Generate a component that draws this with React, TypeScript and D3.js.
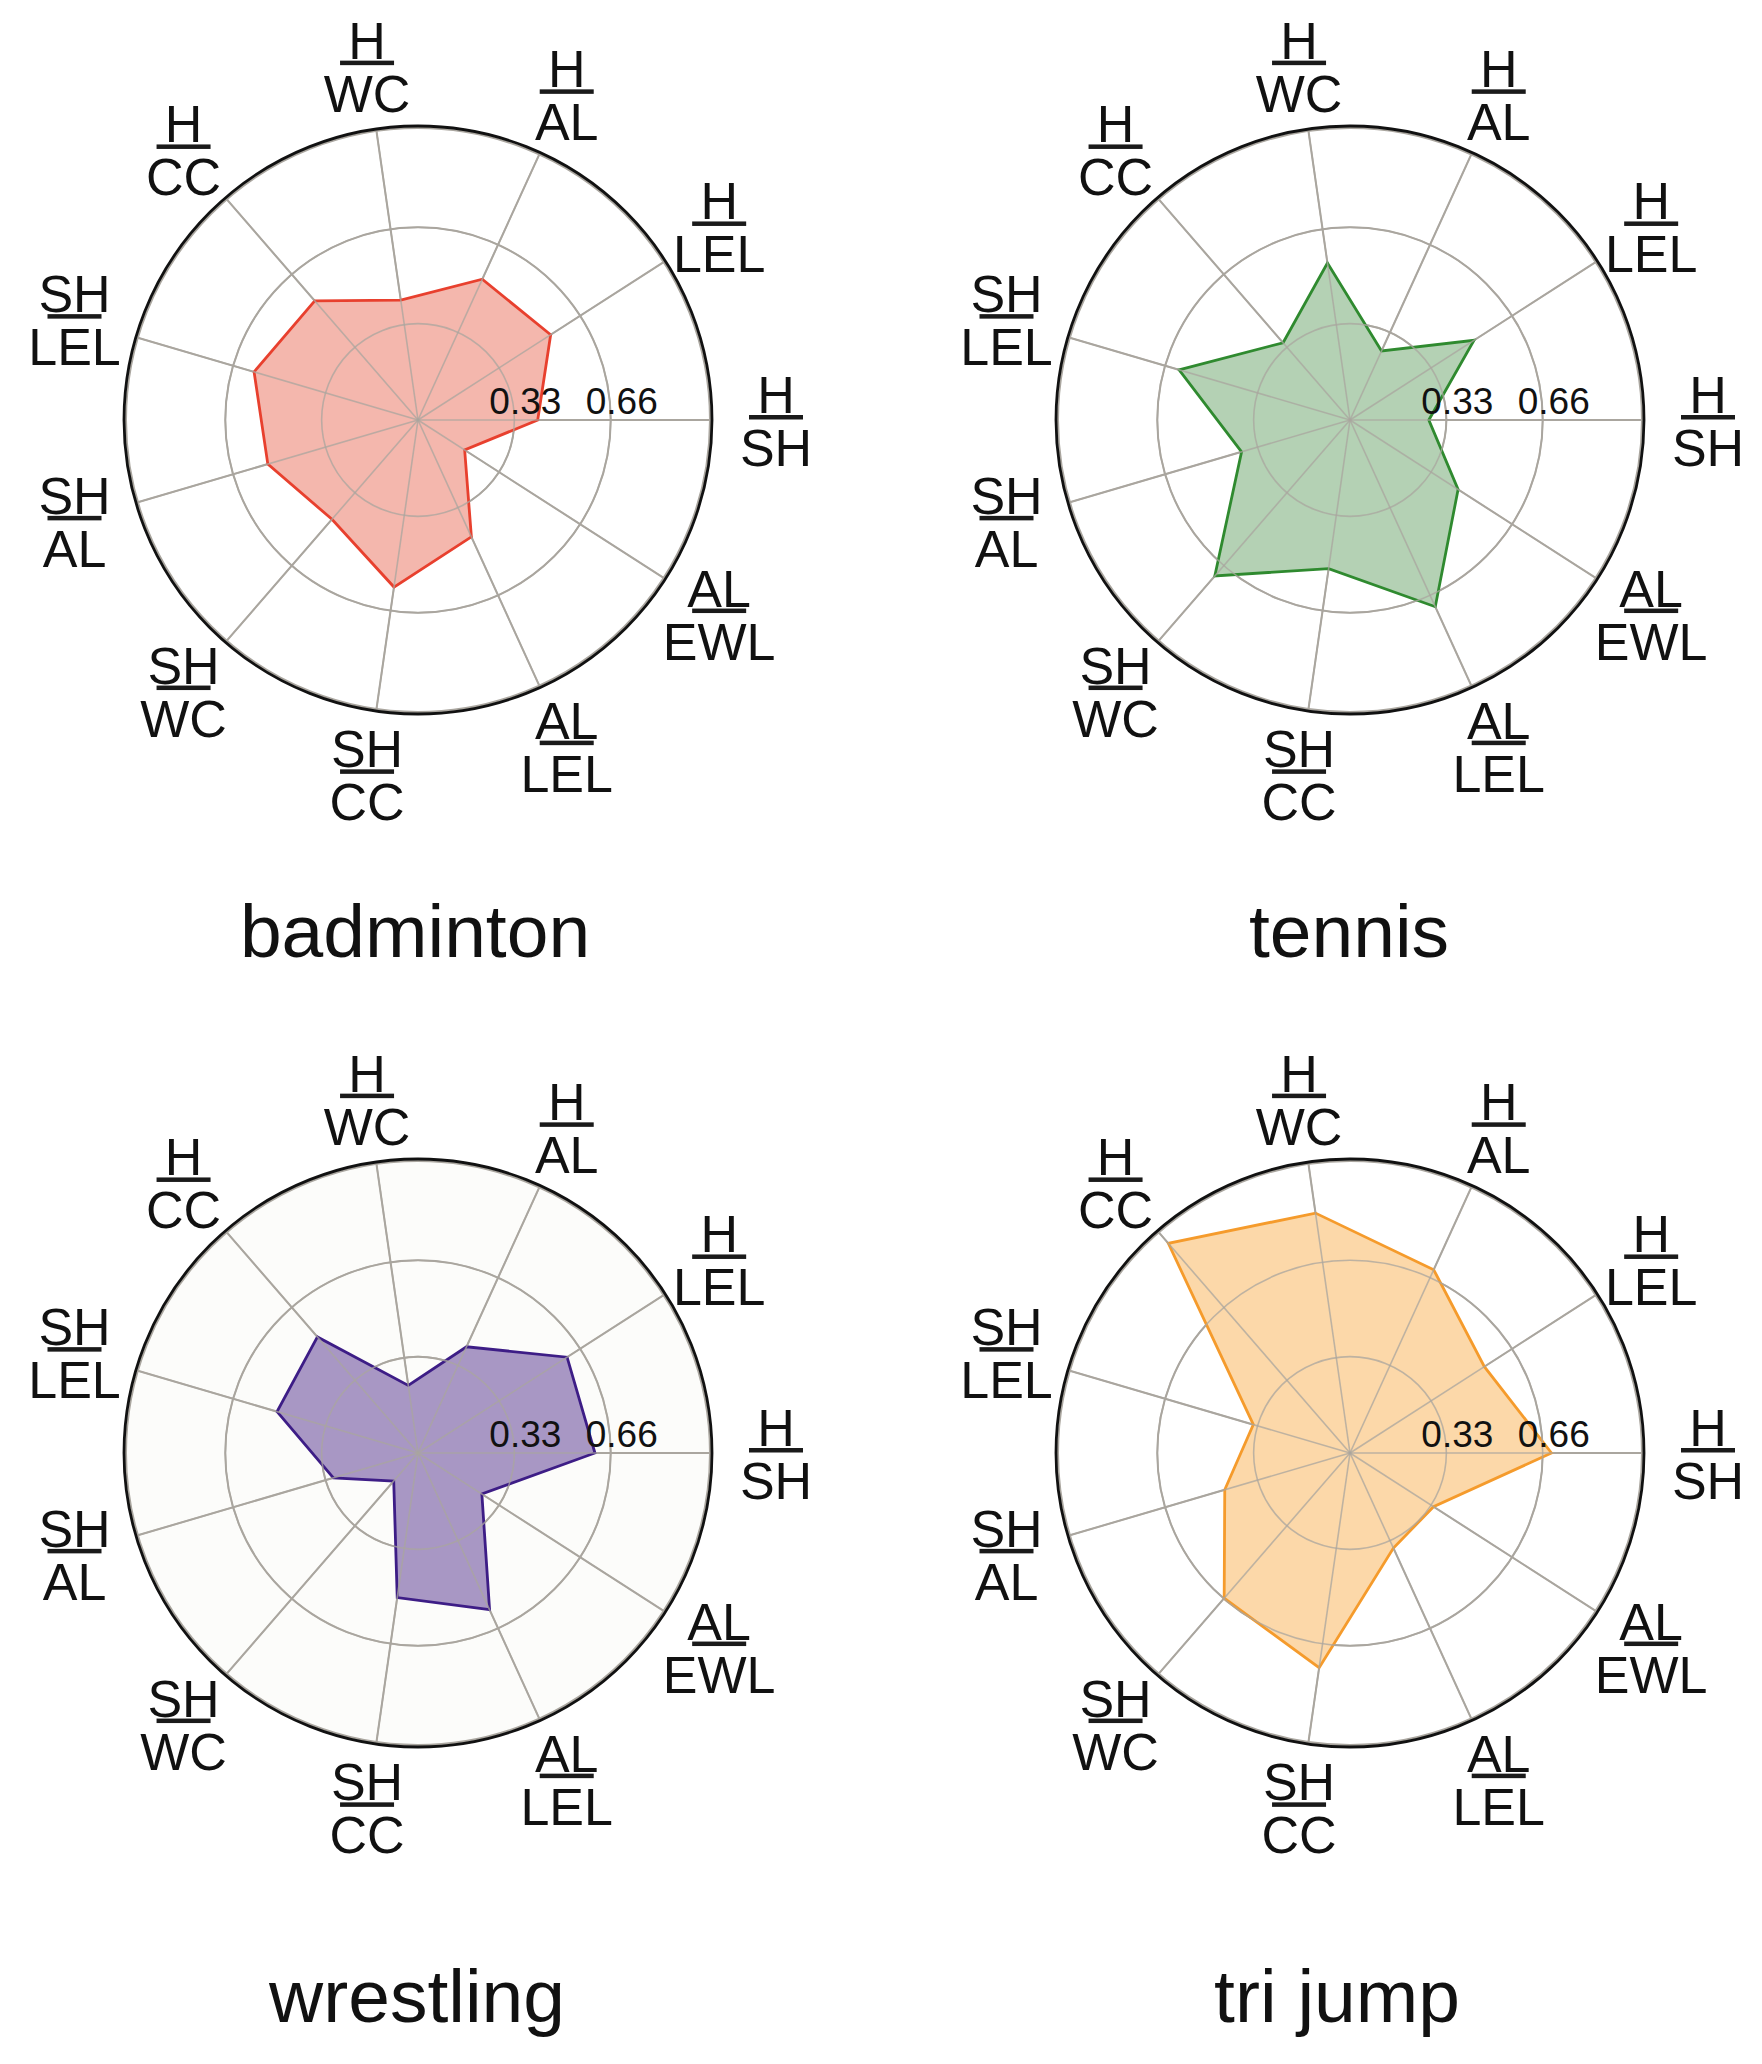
import React, { useEffect } from 'react';
import * as d3 from 'd3';

// axis labels (fraction: numerator over denominator), counterclockwise from east
const numerators = ['H', 'H', 'H', 'H', 'H', 'SH', 'SH', 'SH', 'SH', 'AL', 'AL'];
const denominators = ['SH', 'LEL', 'AL', 'WC', 'CC', 'LEL', 'AL', 'WC', 'CC', 'LEL', 'EWL'];
const ticks = [0.33, 0.66];

const sports = ['badminton', 'tennis', 'wrestling', 'tri jump'];
const badminton = [0.41, 0.54, 0.53, 0.415, 0.54, 0.585, 0.536, 0.45, 0.578, 0.44, 0.19];
const tennis = [0.27, 0.505, 0.26, 0.543, 0.35, 0.61, 0.387, 0.707, 0.514, 0.703, 0.44];
const wrestling = [0.606, 0.607, 0.4, 0.234, 0.526, 0.503, 0.302, 0.127, 0.5, 0.59, 0.26];
const triJump = [0.69, 0.547, 0.69, 0.83, 0.95, 0.345, 0.447, 0.658, 0.743, 0.358, 0.34];

const W = 1762;
const H = 2064;
const R = 292;
const FONT = "'Liberation Sans', Arial, Helvetica, sans-serif";

const panels = [
  { values: badminton, cx: 418, cy: 420, tx: 415, ty: 957, fill: '#f4b7ad', stroke: '#e8402e', bg: '#ffffff' },
  { values: tennis, cx: 1350, cy: 420, tx: 1349, ty: 957, fill: '#b4d1b4', stroke: '#2f8a2f', bg: '#ffffff' },
  { values: wrestling, cx: 418, cy: 1453, tx: 417, ty: 2022, fill: '#a897c4', stroke: '#3d1d86', bg: '#fcfcfa' },
  { values: triJump, cx: 1350, cy: 1453, tx: 1337, ty: 2022, fill: '#fcd8a9', stroke: '#f59b2c', bg: '#ffffff' },
];

const step = (2 * Math.PI) / numerators.length;
const rScale = d3.scaleLinear().domain([0, 1]).range([0, R]);

const shape = d3.lineRadial<number>()
  .angle((d, i) => Math.PI / 2 - i * step)
  .radius(d => rScale(d))
  .curve(d3.curveLinearClosed);

function Radar({ p, title }: { p: typeof panels[number]; title: string }) {
  const gridColor = '#aaa69f';
  return (
    <g>
      <g transform={`translate(${p.cx},${p.cy})`}>
        <circle r={R} fill={p.bg} />
        {ticks.concat([1]).map(t => (
          <circle key={t} r={rScale(t)} fill="none" stroke={gridColor} strokeWidth={2} />
        ))}
        {numerators.map((_, i) => {
          const a = i * step;
          return (
            <line key={i} x1={0} y1={0} x2={rScale(1) * Math.cos(a)} y2={-rScale(1) * Math.sin(a)}
              stroke={gridColor} strokeWidth={2} />
          );
        })}
        <path d={shape(p.values) || ''} fill={p.fill} stroke={p.stroke} strokeWidth={2.8}
          strokeLinejoin="miter" />
        {numerators.map((_, i) => {
          const a = i * step;
          return (
            <line key={'s' + i} x1={0} y1={0} x2={rScale(1) * Math.cos(a)} y2={-rScale(1) * Math.sin(a)}
              stroke={gridColor} strokeWidth={1.6} opacity={0.75} />
          );
        })}
        {ticks.map(t => (
          <circle key={'c' + t} r={rScale(t)} fill="none" stroke={gridColor} strokeWidth={1.6} opacity={0.75} />
        ))}
        <circle r={R + 2} fill="none" stroke="#111" strokeWidth={2.8} />
        {ticks.map(t => (
          <text key={'t' + t} x={rScale(t) - 25} y={-6} fontSize={37} fontFamily={FONT} fill="#111">
            {t.toFixed(2)}
          </text>
        ))}
        {numerators.map((num, i) => {
          const a = i * step;
          const lr = 358;
          const x = lr * Math.cos(a);
          const y = -lr * Math.sin(a);
          return (
            <g key={'l' + i} transform={`translate(${x},${y})`} fontFamily={FONT} fontSize={52} fill="#111"
              textAnchor="middle">
              <text x={0} y={-7}>{num}</text>
              <rect x={-27} y={-5} width={54} height={4.5} fill="#1a1a1a" />
              <text x={0} y={46}>{denominators[i]}</text>
            </g>
          );
        })}
      </g>
      <text x={p.tx} y={p.ty} textAnchor="middle" fontSize={75} fontFamily={FONT} fill="#111">{title}</text>
    </g>
  );
}

export default function App() {
  useEffect(() => {
    document.body.style.margin = '0';
  }, []);
  return (
    <svg width={W} height={H} style={{ display: 'block', background: '#fff' }}>
      {panels.map((p, i) => (
        <Radar key={sports[i]} p={p} title={sports[i]} />
      ))}
    </svg>
  );
}
